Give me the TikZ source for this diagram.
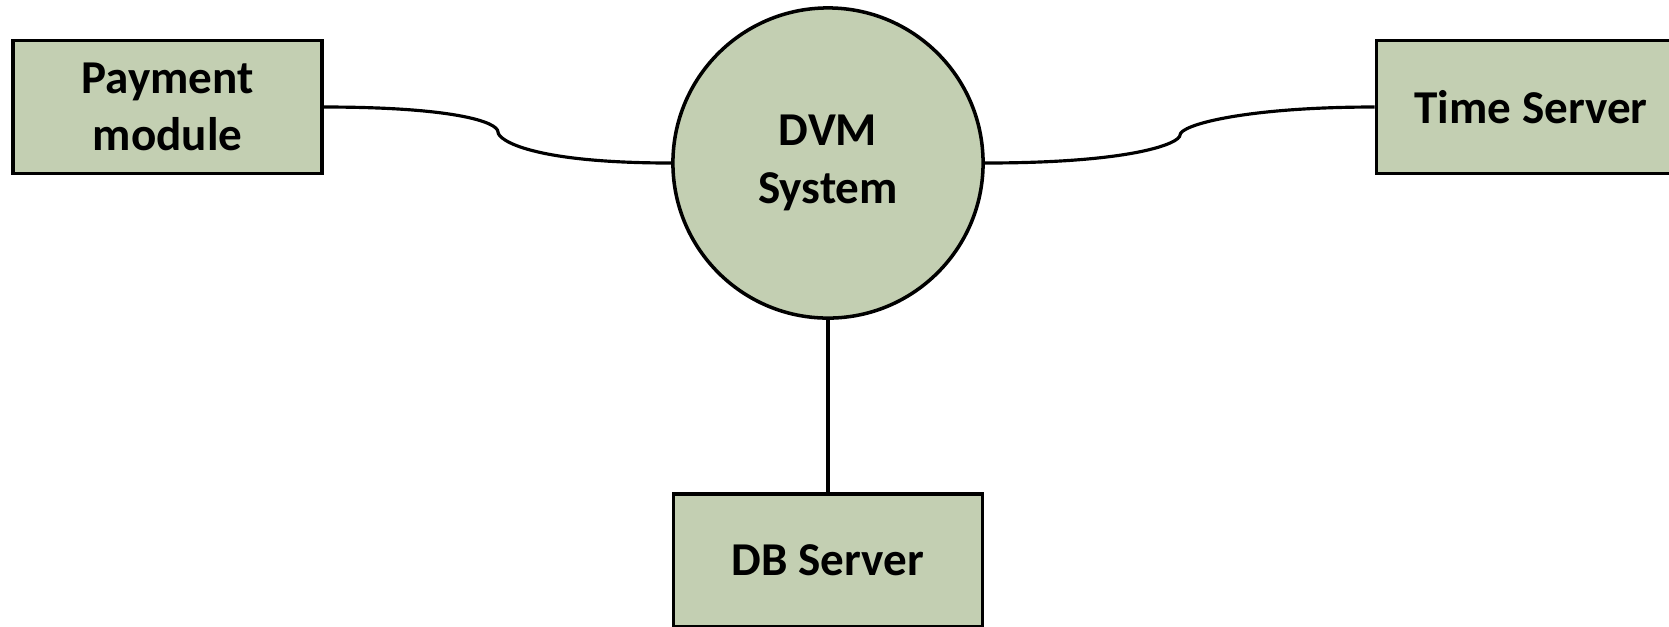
\documentclass[tikz,border=0pt]{standalone}
\usepackage{fontspec}
\setmainfont{Carlito}
\definecolor{sage}{RGB}{195,207,178}
\begin{document}
\begin{tikzpicture}[x=0.01cm,y=-0.01cm,
    box/.style={draw,line width=1pt,fill=sage,minimum width=3.09cm,minimum height=1.33cm,
        align=center,font=\fontsize{13.4pt}{16.3pt}\selectfont\bfseries},
    proc/.style={box,circle,minimum size=3.1cm},
    link/.style={line width=0.9pt}]
    \clip (0,0) rectangle (1669,626);
    \node[box] (pay) at (167.5,107) {Payment\\module};
    \node[proc] (dvm) at (828,163) {DVM\\System};
    \node[box] (time) at (1531,107) {Time Server};
    \node[box] (db) at (828,560.5) {DB Server};
    \coordinate (pay bend) at (498,132);
    \coordinate (time bend) at (1180,135);
    \draw[link] (pay.east) .. controls +(130,0) and +(0,-10) .. (pay bend)
        .. controls +(0,8) and +(-140,0) .. (dvm.west);
    \draw[link] (dvm.east) .. controls +(150,0) and +(0,8) .. (time bend)
        .. controls +(0,-10) and +(-130,0) .. (time.west);
    \draw[link] (dvm.south) -- (db.north);
\end{tikzpicture}
\end{document}
